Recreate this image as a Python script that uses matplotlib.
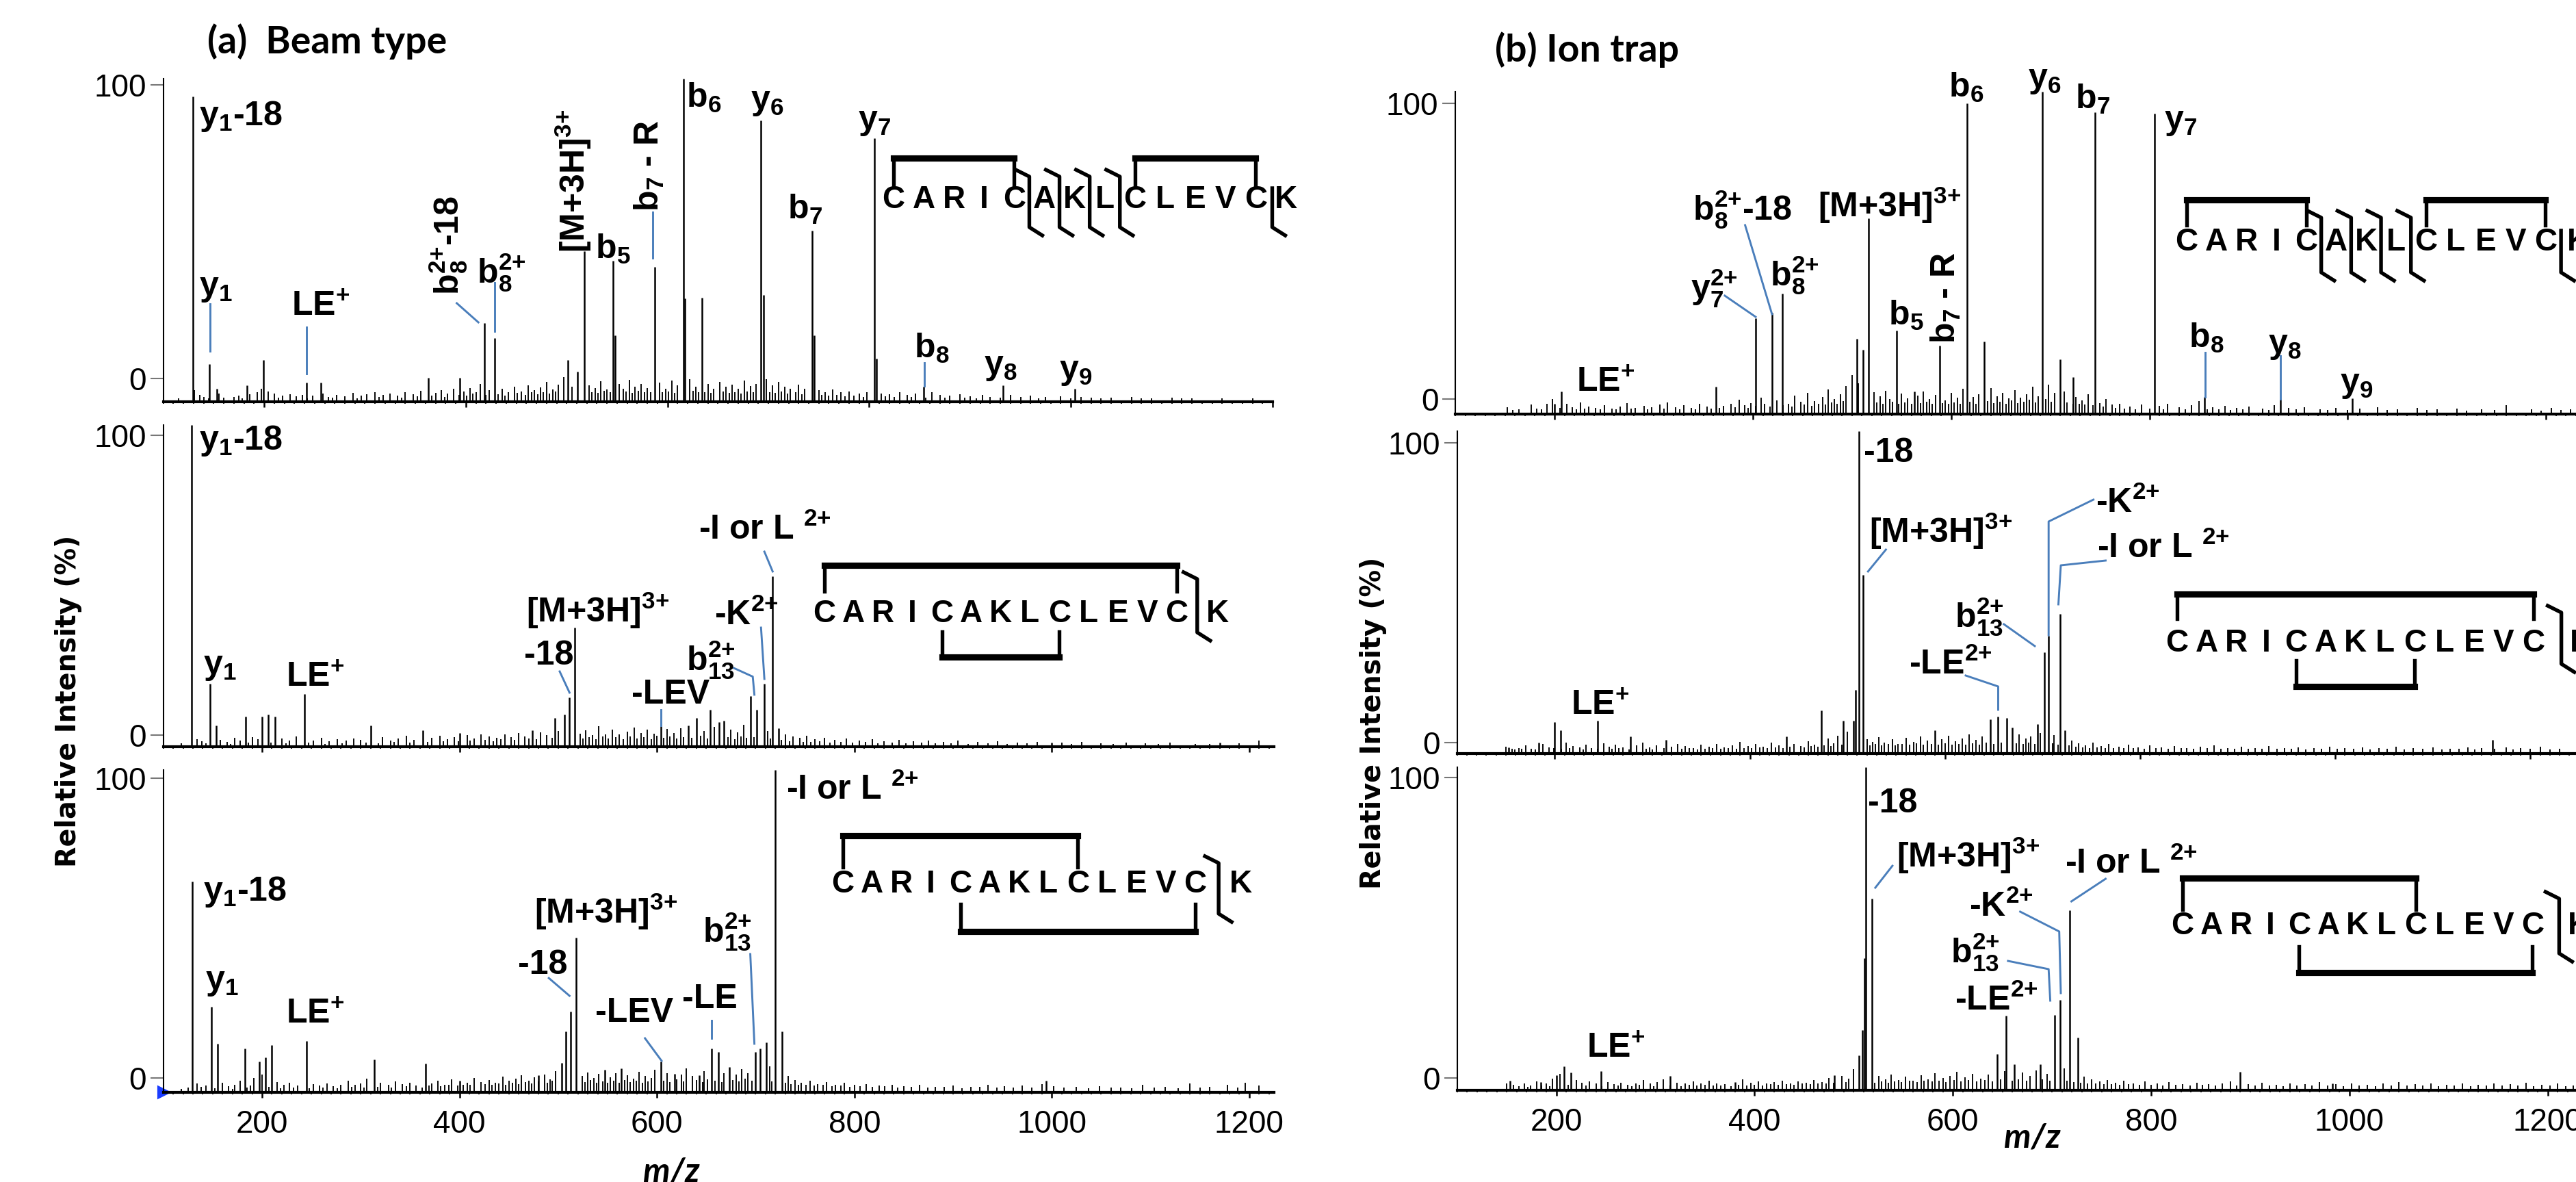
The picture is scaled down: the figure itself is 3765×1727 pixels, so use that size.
import numpy as np
import matplotlib.pyplot as plt
from matplotlib.ticker import MultipleLocator

plt.rcParams['font.family'] = ['Liberation Sans', 'DejaVu Sans']
plt.rcParams['mathtext.default'] = 'regular'

W, H, DPI = 3765, 1727, 300

# ---- spectra: (m/z, relative intensity %) ----
# (a) beam type
a1_peaks = [(129.6, 94.5), (146, 11.6), (153, 3.9), (183, 5.1), (199.4, 12.8), (242, 5.9), (256, 5.9),
            (363, 7.3), (394, 7.3), (418.7, 24.3), (428.6, 19.7), (501.3, 12.8), (511, 9.2), (517.3, 46.5),
            (546.1, 43.6), (548.3, 20.5), (587.1, 41.6), (615.9, 100), (617.2, 31.9), (634.4, 32.1),
            (692.3, 87), (695.3, 33), (743.2, 53), (745.6, 20.5), (804.8, 81.5), (807, 13.2),
            (854, 4.7), (933, 5.1), (1003.7, 3.9)]
a1_noise = [(115, 1.0), (131, 3.5), (136, 2.0), (140, 1.5), (155, 2.5), (160, 1.2), (170, 1.5), (175, 1.8),
            (186, 2.2), (193, 3.0), (197, 4.0), (204, 3.2), (210, 2.5), (218, 1.8), (226, 2.2), (232, 1.6),
            (238, 2.0), (248, 1.8), (258, 2.4), (264, 1.5), (272, 2.0), (280, 1.7), (288, 2.6), (296, 1.9),
            (302, 2.3), (310, 3.0), (318, 2.1), (325, 2.5), (332, 1.8), (340, 2.9), (348, 2.2), (355, 3.4),
            (370, 2.7), (376, 3.5), (382, 2.4), (388, 3.9), (398, 3.1), (404, 4.2), (410, 2.8), (414, 5.5),
            (423, 3.6), (436, 4.0), (442, 3.0), (448, 4.6), (455, 3.2), (462, 5.0), (468, 3.5), (474, 4.4),
            (480, 6.0), (486, 3.8), (492, 5.2), (497, 7.5), (505, 4.5), (522, 5.0), (528, 4.2), (534, 6.2),
            (540, 3.8), (552, 5.5), (556, 4.0), (562, 6.8), (568, 4.5), (574, 5.5), (580, 4.2), (592, 5.8),
            (598, 4.0), (604, 6.5), (610, 5.0), (622, 7.0), (628, 4.5), (640, 5.5), (646, 4.0), (652, 6.0),
            (658, 4.5), (664, 5.2), (670, 4.0), (676, 6.5), (682, 4.8), (688, 5.5), (698, 7.0), (704, 5.0),
            (710, 6.0), (716, 4.5), (722, 4.0), (730, 5.2), (736, 4.0), (750, 3.5), (756, 3.0), (764, 3.8),
            (772, 2.8), (780, 3.2), (790, 2.5), (798, 3.0), (812, 2.5), (820, 2.2), (830, 3.0), (838, 2.0),
            (846, 2.5), (862, 2.8), (870, 2.0), (880, 1.8), (890, 2.2), (900, 1.6), (912, 2.0), (920, 1.5),
            (940, 2.0), (950, 1.5), (960, 1.8), (975, 1.4), (990, 1.6), (1010, 1.5), (1020, 1.3), (1040, 1.2),
            (1060, 1.4), (1080, 1.0), (1100, 1.2), (1120, 1.0), (1150, 1.1), (1180, 0.9),
            (145, 1.1), (178, 1.0), (214, 1.3), (243, 1.1), (268, 1.2), (292, 1.0), (314, 1.4), (336, 1.2),
            (352, 1.6), (366, 1.8), (379, 1.5), (393, 2.0), (401, 1.8), (407, 2.4), (420, 2.0), (432, 2.2),
            (439, 1.9), (451, 2.6), (459, 2.0), (465, 2.8), (471, 2.2), (477, 3.0), (483, 2.5), (489, 3.2),
            (525, 3.0), (531, 2.6), (537, 3.4), (543, 2.8), (559, 3.2), (565, 2.6), (571, 3.4), (577, 2.8),
            (583, 3.0), (595, 2.8), (601, 3.2), (607, 2.6), (625, 3.4), (631, 2.8), (637, 3.0), (643, 2.6),
            (655, 3.2), (661, 2.6), (667, 3.0), (673, 2.4), (679, 3.2), (685, 2.8), (701, 3.0), (707, 2.6),
            (713, 3.2), (719, 2.4), (727, 2.8), (733, 2.2), (753, 2.0), (760, 1.8), (768, 2.0), (776, 1.6),
            (785, 1.8), (794, 1.5), (816, 1.6), (825, 1.4), (842, 1.5), (856, 1.3), (875, 1.2), (895, 1.3),
            (906, 1.1), (930, 1.2), (968, 1.1), (1000, 1.0), (1030, 1.0), (1070, 0.9), (1110, 0.9)]

a2_peaks = [(128.5, 100), (147, 19.6), (153.3, 6.7), (183.2, 9.4), (200, 9.4), (206, 10.1), (213, 9.4),
            (242.8, 16.4), (310, 6.7), (363, 5.1), (400, 4.4), (474, 5.1), (496.3, 9.0), (506, 10.1),
            (511.4, 15.4), (516.5, 37.0), (603.8, 6.5), (631.5, 6.6), (640, 9.0), (654.2, 11.6), (663, 7.8),
            (668, 8.2), (694.5, 15.8), (701, 11.6), (708.8, 19.6), (717.2, 53.0), (723, 5.9), (1000, 1.4),
            (1170, 1.4)]
a2_noise = [(118, 1.2), (134, 2.5), (139, 1.8), (158, 2.2), (165, 1.5), (172, 2.8), (178, 2.0), (190, 3.0),
            (196, 2.4), (220, 2.6), (228, 1.9), (235, 3.2), (252, 2.1), (260, 2.8), (268, 1.7), (276, 2.4),
            (285, 1.9), (293, 2.7), (300, 2.2), (322, 3.1), (330, 2.0), (338, 2.6), (346, 3.4), (354, 2.3),
            (372, 2.9), (380, 3.5), (388, 2.4), (395, 3.0), (408, 3.6), (415, 2.7), (422, 4.0), (430, 3.2),
            (438, 2.8), (446, 3.9), (452, 3.1), (460, 4.4), (466, 3.3), (482, 4.6), (488, 3.6), (500, 5.0),
            (522, 4.2), (528, 5.2), (535, 3.8), (541, 6.5), (548, 4.0), (555, 5.5), (562, 3.9), (570, 4.8),
            (577, 6.0), (584, 4.3), (590, 5.4), (597, 4.1), (610, 5.6), (617, 4.4), (624, 5.8), (648, 5.0),
            (658, 6.2), (675, 5.5), (682, 4.6), (688, 6.8), (712, 5.0), (730, 4.0), (738, 3.2), (745, 2.8),
            (752, 3.4), (760, 2.5), (770, 2.9), (780, 2.2), (792, 2.7), (805, 2.0), (818, 2.4), (830, 1.8),
            (845, 2.2), (860, 1.7), (875, 2.0), (890, 1.6), (905, 1.9), (925, 1.5), (945, 1.8), (965, 1.4),
            (985, 1.6), (1010, 1.3), (1030, 1.5), (1050, 1.2), (1075, 1.4), (1095, 1.1), (1120, 1.3),
            (1145, 1.0), (1190, 1.2), (1210, 2.0),
            (143, 1.2), (168, 1.0), (186, 1.3), (209, 1.4), (224, 1.1), (247, 1.3), (264, 1.0), (281, 1.2),
            (305, 1.4), (318, 1.2), (334, 1.5), (350, 1.3), (368, 1.6), (384, 1.8), (399, 1.7), (411, 2.0),
            (426, 2.2), (434, 1.8), (442, 2.4), (456, 2.2), (470, 2.6), (478, 2.4), (494, 2.8), (525, 2.6),
            (531, 3.0), (538, 2.4), (545, 3.2), (551, 2.6), (558, 3.0), (566, 2.4), (573, 3.2), (580, 2.6),
            (587, 3.0), (594, 2.4), (600, 3.4), (607, 2.8), (613, 3.2), (620, 2.6), (627, 3.0), (635, 2.8),
            (644, 3.4), (651, 2.6), (672, 3.0), (679, 2.4), (685, 3.2), (691, 2.8), (698, 3.0), (715, 2.6),
            (726, 2.2), (734, 1.8), (748, 1.6), (756, 1.5), (765, 1.7), (775, 1.4), (786, 1.6), (798, 1.3),
            (811, 1.5), (824, 1.2), (838, 1.4), (852, 1.1), (868, 1.3), (882, 1.1), (898, 1.2), (915, 1.0),
            (935, 1.1), (955, 1.0), (975, 1.1), (1020, 1.0), (1062, 1.0), (1108, 0.9), (1160, 1.0)]

a3_peaks = [(129.4, 65.4), (148.7, 26.5), (155, 15.1), (183, 13.6), (197, 9.6), (203.6, 10.9), (210, 14.6),
            (245.3, 16.0), (314, 10.1), (365.4, 8.8), (400.6, 3.5), (480, 5.3), (503.6, 9.2), (507.8, 18.9),
            (512.3, 25.0), (518.2, 48.0), (547, 7.0), (563.7, 7.5), (604, 9.6), (618, 5.7), (643, 5.3),
            (655, 13.6), (662, 12.5), (673, 7.9), (700, 12.5), (704.5, 13.6), (710.5, 15.4), (719.7, 100),
            (727, 18.9), (994, 3.5)]
a3_noise = [(118, 1.0), (125, 1.5), (134, 2.8), (138, 1.6), (143, 2.0), (160, 3.0), (166, 1.8), (172, 2.4),
            (178, 3.5), (188, 2.0), (192, 4.5), (200, 5.5), (215, 3.2), (222, 2.4), (228, 3.0), (236, 2.0),
            (252, 2.6), (258, 2.0), (266, 2.8), (272, 1.8), (280, 2.4), (287, 3.6), (294, 2.2), (300, 2.8),
            (306, 4.2), (320, 3.0), (328, 2.2), (335, 3.4), (342, 2.6), (350, 3.0), (356, 2.0), (372, 2.8),
            (378, 3.5), (385, 2.4), (392, 4.0), (408, 3.0), (415, 4.5), (422, 3.2), (430, 3.8), (436, 2.9),
            (444, 4.8), (450, 3.5), (457, 4.2), (463, 5.2), (470, 3.6), (476, 4.6), (486, 5.5), (492, 4.0),
            (497, 6.5), (524, 5.0), (530, 6.2), (536, 4.4), (541, 5.6), (553, 4.6), (558, 6.0), (570, 5.2),
            (576, 4.2), (582, 6.4), (588, 5.0), (594, 4.5), (598, 7.0), (610, 6.0), (625, 5.4), (630, 7.5),
            (636, 5.0), (648, 6.5), (668, 6.0), (680, 5.5), (686, 7.2), (692, 6.0), (714, 8.0), (733, 5.0),
            (740, 3.8), (746, 3.0), (755, 3.6), (763, 2.6), (772, 3.2), (781, 2.4), (790, 2.9), (800, 2.2),
            (812, 2.6), (825, 2.0), (838, 2.3), (850, 1.8), (866, 2.2), (882, 1.7), (900, 2.0), (918, 1.6),
            (935, 2.4), (952, 1.8), (970, 2.0), (990, 2.6), (1002, 1.9), (1025, 1.6), (1048, 1.8),
            (1070, 1.5), (1092, 2.2), (1115, 1.6), (1140, 2.8), (1160, 1.7), (1178, 2.4), (1196, 3.0),
            (1210, 2.0),
            (152, 1.3), (170, 1.1), (185, 1.4), (207, 1.6), (219, 1.2), (232, 1.4), (248, 1.2), (262, 1.5),
            (276, 1.3), (291, 1.6), (303, 1.4), (317, 1.7), (331, 1.4), (346, 1.8), (362, 1.5), (369, 2.0),
            (381, 1.8), (389, 2.2), (398, 2.0), (404, 2.4), (411, 2.2), (426, 2.6), (433, 2.2), (440, 2.8),
            (447, 2.4), (454, 3.0), (460, 2.6), (467, 3.2), (473, 2.8), (480, 3.4), (489, 3.0), (494, 3.6),
            (527, 3.2), (533, 3.8), (539, 3.0), (545, 3.4), (550, 3.0), (556, 3.6), (562, 3.0), (567, 3.8),
            (573, 3.2), (579, 3.6), (585, 3.0), (591, 3.4), (607, 3.6), (613, 3.2), (620, 4.0), (627, 3.4),
            (640, 3.8), (646, 3.2), (651, 4.0), (659, 3.6), (666, 3.2), (677, 3.8), (683, 3.4), (689, 4.2),
            (696, 3.6), (716, 3.4), (730, 3.0), (736, 2.6), (743, 2.2), (751, 2.4), (759, 2.0), (768, 2.2),
            (777, 1.8), (786, 2.0), (795, 1.7), (806, 1.9), (818, 1.6), (831, 1.8), (844, 1.5), (858, 1.7),
            (874, 1.4), (891, 1.6), (909, 1.3), (927, 1.6), (944, 1.4), (961, 1.5), (980, 1.4), (1012, 1.4),
            (1037, 1.3), (1060, 1.4), (1081, 1.2), (1104, 1.5), (1128, 1.3), (1150, 1.4), (1188, 1.5)]

# (b) ion trap
b1_peaks = [(200, 3.0), (207, 6.9), (363, 8.5), (402.7, 29.7), (419, 31.3), (429.8, 37.4), (504.5, 23.2),
            (511, 19.9), (516.8, 60.6), (544.7, 25.9), (562.8, 6.9), (588.2, 21.1), (616.1, 96.3),
            (633.4, 22.4), (691.6, 100), (709.7, 16.9), (722.8, 11.4), (745, 93.5), (805, 93.1),
            (855.6, 5.3), (931.9, 4.6), (1004.4, 4.9)]
b1_noise = [(152, 2.0), (158, 1.2), (176, 2.8), (182, 1.6), (192, 3.0), (198, 4.6), (212, 3.2), (218, 2.0),
            (226, 3.6), (234, 2.2), (241, 1.8), (250, 2.6), (258, 1.7), (266, 2.2), (273, 3.4), (281, 1.9),
            (290, 2.4), (298, 2.0), (306, 2.8), (314, 3.6), (322, 2.1), (330, 2.6), (338, 1.9), (346, 3.0),
            (354, 2.3), (370, 2.5), (378, 3.2), (386, 4.4), (392, 2.6), (398, 3.4), (408, 5.0), (412, 3.0),
            (424, 4.2), (436, 3.2), (442, 5.6), (448, 3.8), (455, 6.4), (462, 4.0), (470, 5.2), (476, 7.5),
            (482, 4.6), (488, 6.0), (494, 8.6), (500, 12.0), (506, 9.5), (522, 6.8), (528, 5.4), (534, 7.2),
            (538, 4.6), (550, 6.2), (556, 4.8), (566, 5.6), (572, 7.0), (578, 4.6), (584, 5.8), (594, 4.2),
            (600, 6.4), (606, 5.0), (612, 7.8), (622, 5.2), (628, 6.0), (640, 8.0), (646, 5.4), (652, 6.6),
            (658, 4.8), (664, 7.4), (670, 5.0), (676, 6.0), (682, 8.4), (688, 5.4), (698, 9.0), (704, 6.4),
            (714, 7.0), (726, 5.2), (732, 4.2), (738, 6.0), (750, 3.4), (756, 4.6), (762, 2.8), (770, 3.2),
            (780, 2.2), (792, 2.8), (810, 2.4), (818, 3.0), (830, 2.0), (842, 2.6), (850, 4.0), (864, 2.0),
            (876, 2.4), (888, 1.8), (900, 2.2), (914, 1.6), (926, 2.6), (940, 1.8), (956, 2.0), (972, 1.5),
            (988, 1.8), (1012, 1.6), (1030, 2.0), (1050, 1.4), (1070, 1.8), (1090, 1.5), (1110, 1.7),
            (1135, 1.4), (1160, 2.6), (1185, 1.5), (1205, 1.8), (1225, 1.3),
            (164, 1.3), (187, 1.5), (205, 1.8), (222, 1.4), (230, 1.6), (246, 1.3), (262, 1.4), (277, 1.6),
            (294, 1.3), (310, 1.7), (326, 1.4), (342, 1.5), (358, 1.6), (366, 1.8), (382, 2.0), (395, 1.8),
            (403, 2.4), (417, 2.2), (430, 2.6), (439, 2.2), (452, 2.8), (459, 2.4), (466, 3.2), (473, 2.8),
            (479, 3.6), (485, 3.0), (491, 4.0), (525, 3.6), (531, 3.2), (541, 3.8), (547, 3.2), (553, 3.6),
            (560, 3.0), (569, 3.4), (575, 3.8), (581, 3.0), (591, 3.4), (597, 3.0), (603, 3.6), (609, 3.2),
            (619, 3.8), (625, 3.2), (637, 4.0), (643, 3.4), (649, 3.8), (655, 3.2), (661, 4.2), (667, 3.4),
            (673, 3.8), (679, 4.4), (685, 3.6), (695, 4.6), (701, 3.8), (717, 3.6), (723, 3.0), (729, 3.2),
            (735, 2.8), (743, 2.6), (753, 2.2), (766, 1.8), (775, 1.6), (786, 1.5), (800, 1.6), (814, 1.4),
            (836, 1.5), (858, 1.3), (870, 1.4), (882, 1.2), (894, 1.3), (920, 1.2), (948, 1.3), (980, 1.1),
            (1000, 1.2), (1040, 1.1), (1080, 1.1), (1120, 1.0), (1148, 1.1), (1195, 1.0), (1215, 1.1)]

b2_peaks = [(153, 1.9), (183.5, 3.4), (200, 9.8), (206, 7.2), (244.2, 10.2), (277.6, 5.3), (314, 4.2),
            (437.6, 5.3), (473.6, 13.3), (496, 10.2), (506, 10.2), (508.6, 19.7), (512, 100), (516.1, 55.3),
            (590, 7.2), (646.5, 10.6), (654.5, 11.4), (663, 11.1), (669, 8.0), (694.6, 9.1), (702.2, 31.4),
            (706.2, 36.4), (717.9, 43.2), (723, 7.2), (1161, 4.2)]
b2_noise = [(150, 2.2), (156, 1.4), (163, 1.8), (170, 2.6), (176, 1.5), (188, 3.0), (194, 2.0), (212, 3.4),
            (219, 2.4), (226, 2.0), (232, 2.8), (238, 1.8), (250, 3.2), (256, 2.2), (262, 2.8), (270, 2.0),
            (284, 2.6), (290, 3.4), (297, 2.0), (304, 2.6), (320, 2.2), (326, 3.0), (334, 2.4), (342, 1.8),
            (350, 2.8), (358, 2.2), (366, 3.0), (374, 2.0), (382, 2.6), (390, 3.6), (398, 2.4), (406, 3.0),
            (414, 2.2), (422, 3.4), (430, 2.6), (445, 3.0), (452, 2.4), (460, 3.8), (466, 2.8), (480, 4.6),
            (486, 3.2), (490, 5.6), (500, 6.8), (520, 4.4), (526, 3.6), (532, 5.0), (538, 3.4), (546, 4.4),
            (552, 3.0), (560, 4.8), (568, 3.6), (575, 5.4), (582, 4.0), (597, 4.4), (604, 5.6), (611, 3.8),
            (618, 4.6), (625, 6.0), (632, 4.2), (638, 5.2), (676, 6.0), (683, 4.6), (688, 5.2), (698, 6.4),
            (712, 5.8), (730, 4.0), (737, 3.2), (744, 2.6), (752, 3.4), (760, 2.4), (768, 3.0), (778, 2.2),
            (788, 2.8), (798, 2.0), (810, 2.6), (822, 1.9), (835, 2.4), (848, 1.8), (862, 2.2), (876, 2.6),
            (890, 1.8), (904, 2.2), (918, 1.7), (932, 2.4), (948, 1.8), (962, 2.0), (978, 1.6), (994, 2.2),
            (1010, 1.7), (1028, 2.0), (1045, 1.6), (1062, 2.2), (1080, 1.6), (1100, 2.0), (1118, 1.5),
            (1136, 1.9), (1150, 1.6), (1175, 2.0), (1190, 1.6), (1210, 2.2), (1230, 1.5),
            (159, 1.2), (166, 1.4), (180, 1.3), (199, 1.6), (207, 1.4), (215, 1.7), (229, 1.3), (244, 1.5),
            (259, 1.4), (266, 1.6), (276, 1.3), (294, 1.5), (300, 1.3), (312, 1.6), (330, 1.4), (338, 1.6),
            (346, 1.3), (354, 1.5), (362, 1.6), (370, 1.4), (378, 1.7), (386, 1.5), (394, 1.8), (402, 1.6),
            (410, 1.9), (418, 1.6), (426, 2.0), (434, 1.8), (441, 2.2), (456, 2.0), (463, 2.4), (470, 2.2),
            (476, 2.6), (483, 2.4), (494, 2.8), (523, 2.6), (529, 3.0), (535, 2.6), (542, 3.0), (549, 2.6),
            (556, 3.0), (564, 2.8), (571, 3.2), (578, 2.8), (586, 3.0), (593, 2.8), (600, 3.2), (607, 2.8),
            (614, 3.0), (621, 2.8), (628, 3.2), (635, 2.8), (642, 3.4), (650, 3.0), (658, 3.4), (673, 3.2),
            (680, 3.0), (686, 3.4), (692, 3.0), (710, 3.2), (716, 2.8), (727, 2.6), (734, 2.2), (741, 2.0),
            (748, 1.8), (756, 1.9), (764, 1.7), (773, 1.8), (783, 1.6), (793, 1.7), (804, 1.5), (816, 1.7),
            (829, 1.5), (842, 1.6), (855, 1.4), (869, 1.6), (883, 1.4), (897, 1.5), (911, 1.4), (925, 1.5),
            (940, 1.4), (955, 1.5), (970, 1.3), (986, 1.5), (1002, 1.4), (1019, 1.5), (1036, 1.3),
            (1053, 1.5), (1071, 1.3), (1090, 1.4), (1109, 1.3), (1127, 1.4), (1143, 1.3), (1163, 1.5),
            (1182, 1.3), (1200, 1.4), (1220, 1.3)]

b3_peaks = [(153, 2.9), (184, 2.5), (200, 4.6), (208, 7.3), (214.8, 5.5), (245, 6.0), (314.6, 4.4),
            (380, 2.5), (480.5, 4.6), (505, 10.8), (509, 18.6), (510.8, 41.0), (511.9, 100), (518.4, 59.3),
            (645, 11.2), (653.9, 23.0), (662, 8.0), (687.8, 8.1), (702.4, 23.2), (708, 28.0), (717.9, 55.8),
            (725.8, 16.4), (890, 5.6), (983, 2.0)]
b3_noise = [(150, 2.0), (157, 1.6), (168, 2.2), (174, 1.4), (180, 2.8), (190, 2.0), (196, 3.6), (204, 5.0),
            (220, 3.2), (226, 2.4), (233, 2.8), (240, 2.0), (252, 2.6), (258, 1.8), (265, 2.4), (272, 1.7),
            (280, 2.2), (288, 3.2), (295, 2.0), (302, 2.6), (308, 3.4), (322, 2.4), (330, 2.0), (338, 2.8),
            (346, 2.2), (354, 3.0), (362, 2.2), (370, 1.8), (388, 3.4), (396, 2.4), (404, 2.8), (412, 2.0),
            (420, 2.6), (428, 3.0), (436, 2.2), (444, 2.8), (452, 2.4), (460, 3.2), (468, 2.6), (475, 3.8),
            (488, 4.4), (495, 3.6), (500, 6.6), (525, 4.4), (532, 3.4), (538, 4.8), (545, 3.2), (552, 4.2),
            (560, 3.0), (568, 4.6), (575, 3.4), (582, 5.2), (590, 3.8), (597, 4.4), (604, 5.8), (612, 4.0),
            (620, 5.0), (628, 3.6), (636, 4.8), (652, 6.0), (670, 5.4), (678, 4.4), (684, 6.2), (695, 5.0),
            (712, 6.8), (732, 4.2), (740, 3.4), (748, 2.8), (756, 3.2), (764, 2.4), (772, 3.0), (782, 2.2),
            (794, 2.8), (806, 2.0), (818, 2.6), (832, 1.9), (846, 2.4), (858, 1.8), (872, 2.2), (880, 2.8),
            (898, 1.8), (912, 2.4), (926, 1.7), (940, 2.2), (955, 1.8), (970, 2.6), (986, 1.9), (1002, 2.2),
            (1018, 1.6), (1034, 2.0), (1050, 2.6), (1066, 1.8), (1082, 2.2), (1098, 1.6), (1114, 2.0),
            (1130, 1.7), (1146, 2.2), (1162, 1.8), (1178, 2.4), (1194, 1.6), (1210, 2.2), (1226, 1.5),
            (162, 1.3), (171, 1.1), (185, 1.4), (193, 1.2), (212, 1.6), (230, 1.4), (246, 1.3), (262, 1.5),
            (276, 1.3), (284, 1.6), (298, 1.3), (315, 1.5), (326, 1.3), (334, 1.6), (342, 1.4), (350, 1.6),
            (358, 1.4), (366, 1.5), (376, 1.3), (384, 1.6), (392, 1.4), (400, 1.7), (408, 1.5), (416, 1.8),
            (424, 1.6), (432, 1.9), (440, 1.7), (448, 2.0), (456, 1.8), (464, 2.2), (472, 2.0), (480, 2.4),
            (492, 2.6), (521, 2.4), (528, 2.8), (535, 2.4), (541, 2.8), (548, 2.6), (556, 3.0), (564, 2.6),
            (571, 3.0), (579, 2.8), (586, 3.0), (593, 2.6), (601, 3.2), (608, 2.8), (616, 3.2), (624, 2.8),
            (632, 3.2), (640, 2.8), (648, 3.4), (660, 3.0), (666, 3.4), (674, 3.0), (690, 3.4), (698, 3.0),
            (715, 3.0), (722, 2.6), (729, 2.4), (736, 2.2), (744, 2.0), (752, 1.8), (760, 1.9), (768, 1.7),
            (777, 1.8), (788, 1.6), (800, 1.7), (812, 1.5), (825, 1.6), (839, 1.4), (852, 1.6), (865, 1.4),
            (886, 1.5), (905, 1.4), (919, 1.5), (933, 1.3), (947, 1.5), (962, 1.4), (978, 1.5), (994, 1.3),
            (1010, 1.5), (1026, 1.3), (1042, 1.5), (1058, 1.4), (1074, 1.5), (1090, 1.3), (1106, 1.5),
            (1122, 1.3), (1138, 1.5), (1154, 1.4), (1170, 1.5), (1186, 1.3), (1202, 1.4), (1218, 1.3)]

x_ticks = [200, 400, 600, 800, 1000, 1200]
sequence = 'CARICAKLCLEVCK'

# ---- layout (figure pixels): left, right, top, bottom of each plot box ----
panels = [
    dict(key='a1', box=(238.7, 1860, 114.8, 586.7), xlim=(100, 1200), yt=(7.1, 98.0), lab=False),
    dict(key='a2', box=(238.7, 1862, 620.7, 1091.4), xlim=(100, 1225), yt=(3.7, 96.7), lab=False),
    dict(key='a3', box=(238.7, 1862, 1125.4, 1595.8), xlim=(100, 1225), yt=(4.4, 97.6), lab=True),
    dict(key='b1', box=(2127.4, 3808.2, 133.9, 604.6), xlim=(100, 1260), yt=(4.5, 96.3), lab=False),
    dict(key='b2', box=(2129.7, 3783.9, 629.6, 1101.0), xlim=(100, 1260), yt=(3.4, 96.4), lab=False),
    dict(key='b3', box=(2129.8, 3810.6, 1121.3, 1592.9), xlim=(100, 1260), yt=(3.9, 96.9), lab=True),
]
spectra = {'a1': (a1_peaks, a1_noise), 'a2': (a2_peaks, a2_noise), 'a3': (a3_peaks, a3_noise),
           'b1': (b1_peaks, b1_noise), 'b2': (b2_peaks, b2_noise), 'b3': (b3_peaks, b3_noise)}

# ion names ({+} keeps mathtext from spacing the plus signs)
MH = '$[M{+}3H]^{3{+}}$'
IL = '-I or L $^{2{+}}$'
LEP = '$LE^{+}$'
B13 = '$b_{13}^{2{+}}$'
KP = '-$K^{2{+}}$'
LE2 = '-$LE^{2{+}}$'

# peak labels: text, x, y (figure px, left/centre), rotation
labels = [
    ('y$_1$-18', 291, 170, 0), ('y$_1$', 291, 421, 0), (LEP, 426, 448, 0),
    ('$b_8^{2{+}}$-18', 655, 358, 90), ('$b_8^{2{+}}$', 697, 398, 0), (MH, 838, 264, 90),
    ('b$_5$', 870, 364, 0), ('b$_7$ - R', 949, 242, 90), ('b$_6$', 1003, 143, 0), ('y$_6$', 1097, 149, 0),
    ('b$_7$', 1151, 306, 0), ('y$_7$', 1254, 178, 0), ('b$_8$', 1336, 509, 0), ('y$_8$', 1438, 536, 0),
    ('y$_9$', 1548, 543, 0),
    ('y$_1$-18', 291, 644, 0), ('y$_1$', 297, 974, 0), (LEP, 418, 990, 0),
    (MH, 769, 892, 0), ('-18', 766, 958, 0), ('-LEV', 923, 1015, 0),
    (B13, 1003, 964, 0), (KP, 1044, 899, 0), (IL, 1021, 774, 0),
    (IL, 1149, 1154, 0), ('y$_1$-18', 297, 1303, 0), (MH, 781, 1332, 0),
    (B13, 1027, 1361, 0), ('-18', 757, 1410, 0), ('y$_1$', 300, 1435, 0),
    ('-LE', 997, 1460, 0), ('-LEV', 870, 1480, 0), (LEP, 418, 1482, 0),
    ('b$_6$', 2848, 128, 0), ('y$_6$', 2964, 117, 0), ('b$_7$', 3033, 145, 0), ('y$_7$', 3163, 178, 0),
    ('$b_8^{2{+}}$-18', 2474, 306, 0), (MH, 2657, 300, 0), ('$b_8^{2{+}}$', 2587, 402, 0),
    ('$y_7^{2{+}}$', 2471, 421, 0), ('b$_5$', 2760, 461, 0), ('b$_7$ - R', 2844, 435, 90),
    ('b$_8$', 3199, 494, 0), ('y$_8$', 3315, 505, 0), ('y$_9$', 3420, 562, 0), (LEP, 2304, 559, 0),
    ('-18', 2724, 662, 0), (MH, 2732, 776, 0), (KP, 3063, 735, 0),
    (IL, 3065, 801, 0), (B13, 2857, 901, 0), (LE2, 2790, 971, 0),
    (LEP, 2296, 1031, 0),
    ('-18', 2730, 1174, 0), (MH, 2772, 1250, 0), (IL, 3018, 1262, 0),
    (KP, 2878, 1325, 0), (B13, 2851, 1391, 0), (LE2, 2857, 1462, 0),
    (LEP, 2319, 1532, 0),
]

# blue leader lines (figure px)
leaders = [
    [(306.6, 444), (306.6, 513)], [(448.3, 478), (448.3, 546)], [(667.6, 443), (699.2, 471)],
    [(723.4, 413), (723.4, 484)], [(953.6, 310), (953.6, 377)], [(1351, 530), (1351, 564)],
    [(818, 981), (832.4, 1012)], [(965.7, 1037), (965.7, 1060)],
    [(1072.4, 976), (1100.2, 988.6), (1102.6, 1015)], [(1112.3, 917), (1117.2, 992)],
    [(1117.2, 806), (1129.3, 835)],
    [(1096.6, 1394), (1102.6, 1525)], [(802.1, 1429), (832.4, 1455)], [(1039.6, 1491), (1039.6, 1517)],
    [(942.7, 1517), (967, 1550)],
    [(2550.6, 329), (2589.9, 459)], [(2520.9, 432), (2566, 463)], [(3222.6, 515), (3222.6, 580)],
    [(3333.2, 520), (3333.2, 583)],
    [(2756.4, 803), (2730.2, 835)], [(3059.7, 730), (2994.2, 762), (2994.2, 928)],
    [(3077.5, 819), (3012, 826), (3008.5, 883)], [(2928.8, 912), (2974, 944)],
    [(2873, 987), (2920.5, 1003), (2920.5, 1037)],
    [(2765.9, 1265), (2740.9, 1297)], [(3077.5, 1284), (3027.5, 1317)],
    [(2952.6, 1332), (3009.7, 1361), (3012, 1451)], [(2934.8, 1404), (2994.2, 1416), (2996.6, 1462)],
]

# peptide sketches: first letter x, pitch, centre y, disulfide links, cleavage marks
peptides = [
    dict(x0=1306, p=44.1, yc=292, top=[(0, 4), (8, 12)], bot=[], cuts=[4.5, 5.5, 6.5, 7.5],
         ck=12.55, k=13.0, tb=(-60, -22), bb=(27, 65), mk=(-34, 40), cktop=False),
    dict(x0=1205, p=42.9, yc=897, top=[(0, 12)], bot=[(4, 8)], cuts=[],
         ck=12.7, k=13.4, tb=(-70, -33), bb=(26, 62), mk=(-51, 27), cktop=True),
    dict(x0=1232, p=42.9, yc=1292, top=[(0, 8)], bot=[(4, 12)], cuts=[],
         ck=12.8, k=13.55, tb=(-70, -25), bb=(29, 68), mk=(-31, 43), cktop=True),
    dict(x0=3196, p=43.7, yc=354, top=[(0, 4), (8, 12)], bot=[], cuts=[4.5, 5.5, 6.5, 7.5],
         ck=12.52, k=13.1, tb=(-61, -25), bb=(27, 65), mk=(-36, 44), cktop=False),
    dict(x0=3182, p=43.4, yc=940, top=[(0, 12)], bot=[(4, 8)], cuts=[],
         ck=12.94, k=13.6, tb=(-71, -36), bb=(25, 62), mk=(-45, 30), cktop=True),
    dict(x0=3190, p=42.6, yc=1353, top=[(0, 8)], bot=[(4, 12)], cuts=[],
         ck=12.92, k=13.6, tb=(-69, -24), bb=(30, 67), mk=(-40, 40), cktop=True),
]

fig = plt.figure(figsize=(W / DPI, H / DPI), dpi=DPI)

for pn in panels:
    l, r, t, b = pn['box']
    ax = fig.add_axes([l / W, 1 - b / H, (r - l) / W, (b - t) / H])
    ax.patch.set_alpha(0)
    peaks, noise = spectra[pn['key']]
    nm, ni = zip(*noise)
    ax.vlines(nm, 0, ni, colors='k', lw=0.45)
    pm, pi = zip(*peaks)
    ax.vlines(pm, 0, pi, colors='k', lw=0.6)
    ax.set_xlim(*pn['xlim'])
    ax.set_ylim(0, 100)
    for s in ['top', 'right']:
        ax.spines[s].set_visible(False)
    ax.spines['left'].set_linewidth(0.5)
    ax.spines['bottom'].set_linewidth(1.0)
    ax.set_yticks(list(pn['yt']))
    ax.set_yticklabels(['0', '100'])
    ax.tick_params(axis='y', length=4.5, width=0.5, color='#777777', pad=1.5, labelsize=11)
    ax.set_xticks(x_ticks)
    ax.xaxis.set_minor_locator(MultipleLocator(10))
    ax.tick_params(axis='x', which='major', length=2.0, width=0.6, pad=4, labelsize=11)
    ax.tick_params(axis='x', which='minor', length=0.7, width=0.4)
    if not pn['lab']:
        ax.set_xticklabels([])
    if pn['key'] == 'a3':
        ax.plot([0.0], [0.0], marker='>', color='#1a3cff', ms=3.5, transform=ax.transAxes, clip_on=False)

# overlay in figure pixels for the annotations
ov = fig.add_axes([0, 0, 1, 1])
ov.set_xlim(0, W)
ov.set_ylim(H, 0)
ov.axis('off')

for txt, x, y, rot in labels:
    if rot:
        ov.text(x, y, txt, rotation=90, ha='center', va='center', fontsize=12, fontweight='bold')
    else:
        ov.text(x, y, txt, ha='left', va='center', fontsize=12, fontweight='bold')

for pts in leaders:
    xs, ys = zip(*pts)
    ov.plot(xs, ys, color='#4a7ebb', lw=0.7)

for pp in peptides:
    x0, p, yc = pp['x0'], pp['p'], pp['yc']
    for i, ch in enumerate(sequence[:13]):
        ov.text(x0 + i * p, yc, ch, ha='center', va='center', fontsize=11, fontweight='bold')
    ov.text(x0 + pp['k'] * p, yc, sequence[13], ha='center', va='center', fontsize=11, fontweight='bold')
    for i, j in pp['top']:
        xi, xj = x0 + i * p, x0 + j * p
        ov.plot([xi, xi, xj, xj], [yc + pp['tb'][1], yc + pp['tb'][0], yc + pp['tb'][0], yc + pp['tb'][1]],
                color='k', lw=1.3, solid_joinstyle='miter')
        ov.plot([xi, xj], [yc + pp['tb'][0] - 1, yc + pp['tb'][0] - 1], color='k', lw=2.2)
    for i, j in pp['bot']:
        xi, xj = x0 + i * p, x0 + j * p
        ov.plot([xi, xi, xj, xj], [yc + pp['bb'][0], yc + pp['bb'][1], yc + pp['bb'][1], yc + pp['bb'][0]],
                color='k', lw=1.3, solid_joinstyle='miter')
        ov.plot([xi, xj], [yc + pp['bb'][1] + 1, yc + pp['bb'][1] + 1], color='k', lw=2.2)
    y1, y2 = yc + pp['mk'][0], yc + pp['mk'][1]
    for c in pp['cuts']:
        xc = x0 + c * p
        ov.plot([xc - 20, xc, xc, xc + 19], [y1 - 10, y1, y2, y2 + 12], color='k', lw=1.3)
    xc = x0 + pp['ck'] * p
    if pp['cktop']:
        ov.plot([xc - 20, xc, xc, xc + 19], [y1 - 10, y1, y2, y2 + 12], color='k', lw=1.3)
    else:
        ov.plot([xc, xc, xc + 19], [yc - 17, y2, y2 + 12], color='k', lw=1.3)

# titles and axis labels
ov.text(303, 61, '(a)  Beam type', ha='left', va='center', fontsize=13.3, fontweight='bold',
        family=['Lato', 'DejaVu Sans'])
ov.text(2185, 73, '(b) Ion trap', ha='left', va='center', fontsize=13.3, fontweight='bold',
        family=['Lato', 'DejaVu Sans'])
ov.text(100, 1024, 'Relative Intensity (%)', rotation=90, ha='center', va='center', fontsize=9.5,
        fontweight='bold', family=['DejaVu Sans'])
ov.text(2007, 1056, 'Relative Intensity (%)', rotation=90, ha='center', va='center', fontsize=9.5,
        fontweight='bold', family=['DejaVu Sans'])
ov.text(981, 1712, 'm/z', ha='center', va='center', fontsize=12, fontweight='bold', style='italic',
        family=['Lato', 'DejaVu Sans'])
ov.text(2970, 1662, 'm/z', ha='center', va='center', fontsize=12, fontweight='bold', style='italic',
        family=['Lato', 'DejaVu Sans'])

fig.savefig('out.png', dpi=DPI)
